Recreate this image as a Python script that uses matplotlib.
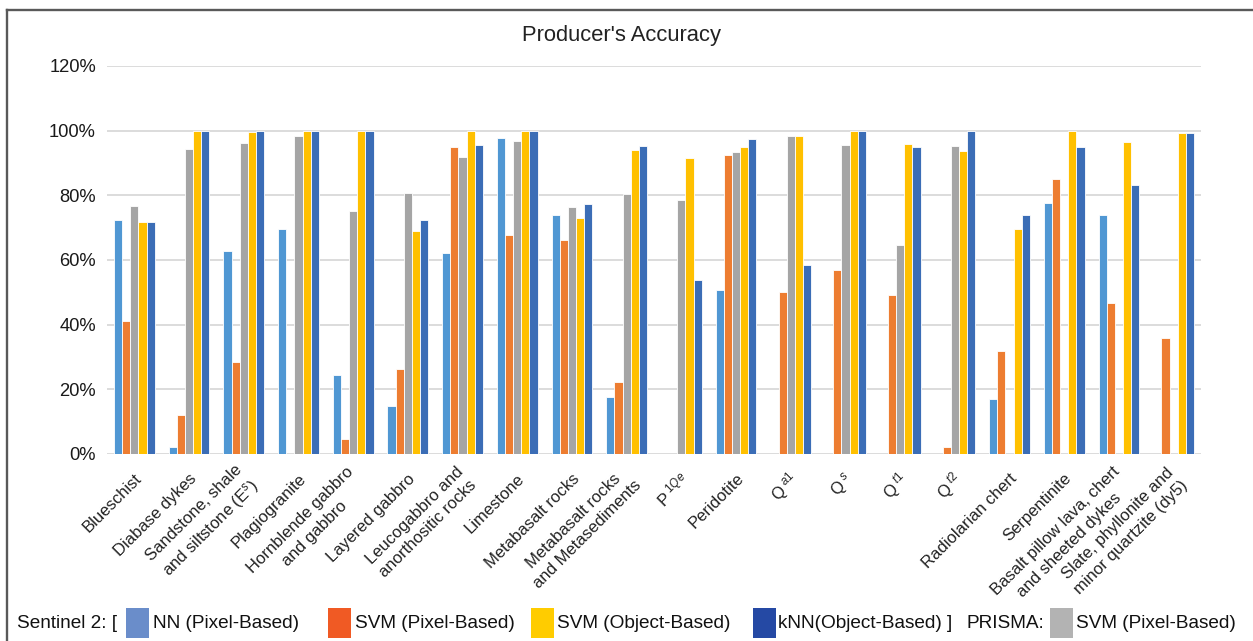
import numpy as np
import matplotlib
matplotlib.use("Agg")
from matplotlib import pyplot as plt
from matplotlib.patches import Rectangle
from matplotlib.lines import Line2D
from matplotlib.ticker import PercentFormatter
from matplotlib.transforms import ScaledTranslation

plt.rcParams['font.family'] = ['Liberation Sans', 'DejaVu Sans']
plt.rcParams['mathtext.fontset'] = 'custom'
plt.rcParams['mathtext.rm'] = 'Liberation Sans'
plt.rcParams['mathtext.it'] = 'Liberation Sans:italic'

# categories (rock units)
categories = ["Blueschist", "Diabase dykes", "Sandstone, shale\nand siltstone (E$^{s}$)",
              "Plagiogranite", "Hornblende gabbro\nand gabbro", "Layered gabbro",
              "Leucogabbro and\nanorthositic rocks", "Limestone", "Metabasalt rocks",
              "Metabasalt rocks\nand Metasediments", "P$^{\\ 1Qe}$", "Peridotite",
              "Q$^{\\ a1}$", "Q$^{\\ s}$", "Q$^{\\ t1}$", "Q$^{\\ t2}$", "Radiolarian chert",
              "Serpentinite", "Basalt pillow lava, chert\nand sheeted dykes",
              "Slate, phyllonite and\nminor quartzite (dy5)"]

# producer's accuracy in %
nn_pixel = [72.3, 2.3, 62.8, 69.6, 24.3, 14.9, 62.3, 97.8, 74.0, 17.7,
            0, 50.7, 0, 0, 0, 0, 17.1, 77.5, 73.9, 0]
svm_pixel = [41.1, 12.0, 28.5, 0, 4.7, 26.3, 94.9, 67.6, 66.3, 22.4,
             0, 92.6, 50.2, 57.0, 49.1, 2.3, 31.8, 85.1, 46.8, 35.8]
prisma_svm = [76.7, 94.4, 96.3, 98.4, 75.3, 80.7, 92.0, 96.9, 76.4, 80.3,
              78.6, 93.5, 98.4, 95.6, 64.7, 95.4, 0, 0, 0, 0]
svm_object = [71.7, 100, 99.6, 100, 100, 68.9, 100, 100, 73.0, 94.0,
              91.5, 94.8, 98.4, 100, 95.8, 93.7, 69.6, 100, 96.5, 99.3]
knn_object = [71.7, 100, 100, 100, 100, 72.4, 95.7, 100, 77.3, 95.3,
              53.8, 97.5, 58.4, 100, 94.8, 100, 74.0, 95.1, 83.2, 99.3]

series = [nn_pixel, svm_pixel, prisma_svm, svm_object, knn_object]
bar_colors = ['#5097D3', '#ED7D31', '#A5A5A5', '#FFC000', '#3B6DB6']

W, H = 1253, 641
fig = plt.figure(figsize=(W / 100, H / 100), dpi=100)
ax = fig.add_axes([107 / W, 1 - 454 / H, (1201 - 107) / W, (454 - 66) / H])

x = np.arange(len(categories))
bw = 0.149
for i, (vals, col) in enumerate(zip(series, bar_colors)):
    ax.bar(x + (i - 2) * bw, vals, width=bw, color=col, edgecolor='white',
           linewidth=0.6, zorder=3)

ax.set_xlim(-0.5, len(categories) - 0.5)
ax.set_ylim(0, 120)
ax.set_yticks(np.arange(0, 121, 20))
ax.yaxis.set_major_formatter(PercentFormatter(decimals=0))
ax.grid(axis='y', color='#D9D9D9', linewidth=1.3, zorder=0)
ax.set_axisbelow(True)
for s in ax.spines.values():
    s.set_visible(False)
ax.tick_params(axis='y', length=0, pad=8, labelsize=13.2, labelcolor='#1a1a1a')
ax.set_xticks(x)
ax.set_xticklabels(categories, rotation=45, ha='right', va='center',
                   rotation_mode='anchor', multialignment='center',
                   fontsize=12, color='#222222', linespacing=1.35)
ax.tick_params(axis='x', length=0, pad=16)
# nudge labels a little to the right
shift = ScaledTranslation(5 / 100, 0, fig.dpi_scale_trans)
for lab in ax.get_xticklabels():
    lab.set_transform(lab.get_transform() + shift)

fig.text(622 / W, 1 - 36 / H, "Producer's Accuracy", ha='center', va='center',
         fontsize=15.8, color='#222222')

# frame lines (left and top)
fig.add_artist(Line2D([7 / W, 7 / W], [0, 1 - 10 / H], transform=fig.transFigure,
                      color='#595959', linewidth=1.7))
fig.add_artist(Line2D([7 / W, 1], [1 - 10 / H, 1 - 10 / H], transform=fig.transFigure,
                      color='#595959', linewidth=1.7))

# legend drawn by hand
leg_texts = ["Sentinel 2: [", "NN (Pixel-Based)", "SVM (Pixel-Based)",
             "SVM (Object-Based)", "kNN(Object-Based) ]", "PRISMA:", "SVM (Pixel-Based)"]
leg_text_x = [17, 153, 355, 557, 778, 967, 1076]
leg_colors = ['#6A8DCA', '#F05A24', '#FFCC00', '#2549A4', '#B3B3B3']
leg_patch_x = [126, 328, 531, 753, 1050]
ty = 1 - 624 / H
for t, px in zip(leg_texts, leg_text_x):
    fig.text(px / W, ty, t, ha='left', va='center', fontsize=13.7, color='#111111')
for c, px in zip(leg_colors, leg_patch_x):
    fig.add_artist(Rectangle((px / W, 1 - 638 / H), 23 / W, 30 / H,
                             transform=fig.transFigure, facecolor=c, edgecolor='none'))

fig.savefig("out.png", dpi=100)
